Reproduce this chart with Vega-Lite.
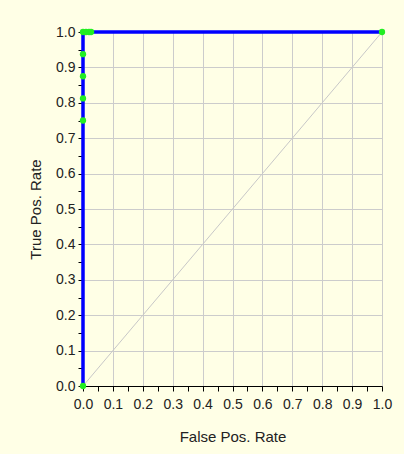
{
  "$schema": "https://vega.github.io/schema/vega-lite/v6.json",
  "width": 299,
  "height": 354,
  "autosize": {"type": "none"},
  "padding": {"left": 83, "top": 32, "right": 22, "bottom": 68},
  "background": "#FFFFE6",
  "config": {
    "view": {"stroke": null},
    "font": "Liberation Sans",
    "axis": {
      "labelFont": "Liberation Sans",
      "titleFont": "Liberation Sans",
      "labelFontSize": 14,
      "titleFontSize": 15,
      "titleFontWeight": "normal",
      "labelColor": "#222222",
      "titleColor": "#222222",
      "domainColor": "#000000",
      "tickColor": "#000000",
      "tickSize": 5,
      "gridColor": "#CCCCCC",
      "labelFlush": false
    }
  },
  "datasets": {
    "roc": [
      {"fpr": 0, "tpr": 0, "o": 1},
      {"fpr": 0, "tpr": 1, "o": 2},
      {"fpr": 1, "tpr": 1, "o": 3}
    ],
    "diag": [
      {"fpr": 0, "tpr": 0},
      {"fpr": 1, "tpr": 1}
    ],
    "pts": [
      {"fpr": 0, "tpr": 0},
      {"fpr": 0, "tpr": 0.75},
      {"fpr": 0, "tpr": 0.8125},
      {"fpr": 0, "tpr": 0.875},
      {"fpr": 0, "tpr": 0.9375},
      {"fpr": 0, "tpr": 1},
      {"fpr": 0.01, "tpr": 1},
      {"fpr": 0.02, "tpr": 1},
      {"fpr": 0.027, "tpr": 1},
      {"fpr": 1, "tpr": 1}
    ]
  },
  "encoding": {
    "x": {
      "field": "fpr", "type": "quantitative",
      "scale": {"domain": [0, 1], "nice": false},
      "axis": {
        "title": "False Pos. Rate",
        "titlePadding": 18,
        "values": [0, 0.05, 0.1, 0.15, 0.2, 0.25, 0.3, 0.35, 0.4, 0.45, 0.5, 0.55, 0.6, 0.65, 0.7, 0.75, 0.8, 0.85, 0.9, 0.95, 1],
        "labelExpr": "round(datum.value*100) % 10 == 0 ? format(datum.value, '.1f') : ''",
        "gridOpacity": {"condition": {"test": "round(datum.value*100) % 10 == 0", "value": 1}, "value": 0},
        "labelPadding": 6,
        "labelOverlap": false
      }
    },
    "y": {
      "field": "tpr", "type": "quantitative",
      "scale": {"domain": [0, 1], "nice": false},
      "axis": {
        "title": "True Pos. Rate",
        "titlePadding": 12,
        "values": [0, 0.05, 0.1, 0.15, 0.2, 0.25, 0.3, 0.35, 0.4, 0.45, 0.5, 0.55, 0.6, 0.65, 0.7, 0.75, 0.8, 0.85, 0.9, 0.95, 1],
        "labelExpr": "round(datum.value*100) % 10 == 0 ? format(datum.value, '.1f') : ''",
        "gridOpacity": {"condition": {"test": "round(datum.value*100) % 10 == 0", "value": 1}, "value": 0},
        "labelPadding": 3,
        "labelOverlap": false
      }
    }
  },
  "layer": [
    {
      "data": {"name": "diag"},
      "mark": {"type": "line", "color": "#C8C8C8", "strokeWidth": 1}
    },
    {
      "data": {"name": "roc"},
      "mark": {"type": "line", "color": "#0000FF", "strokeWidth": 3.5},
      "encoding": {
        "order": {"field": "o", "type": "quantitative"}
      }
    },
    {
      "data": {"name": "pts"},
      "mark": {"type": "circle", "color": "#22EE22", "opacity": 1, "size": 40}
    }
  ]
}
